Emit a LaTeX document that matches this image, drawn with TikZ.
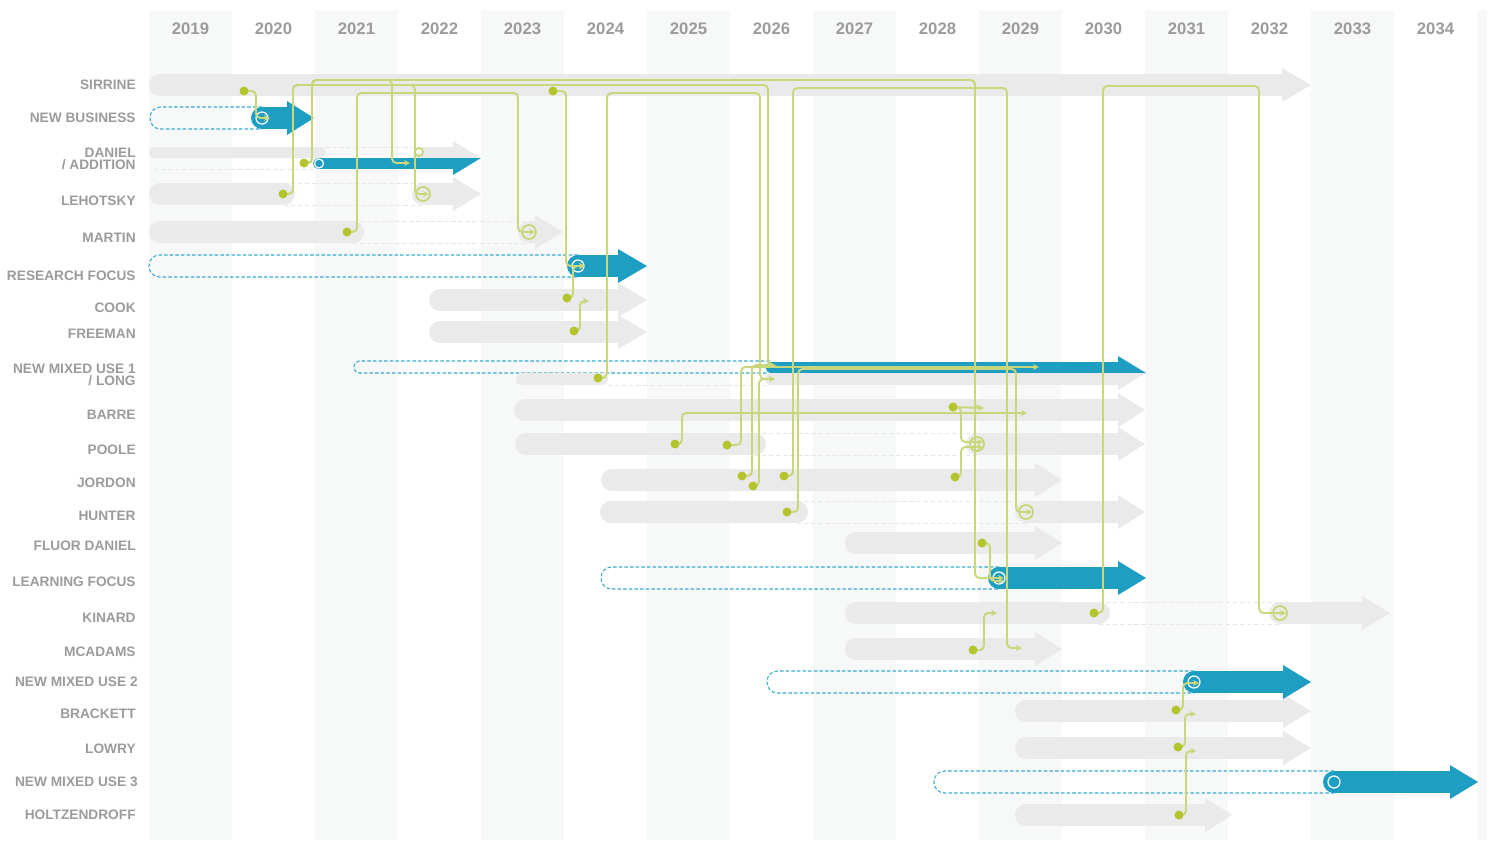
\documentclass[tikz,border=0pt]{standalone}
\usepackage{fontspec}
\setmainfont{Liberation Sans}
\usetikzlibrary{arrows.meta}
\definecolor{colbg}{RGB}{247,248,248}
\definecolor{lblgray}{RGB}{155,155,155}
\definecolor{bargray}{RGB}{234,234,234}
\definecolor{barblue}{RGB}{31,158,195}
\definecolor{dashblue}{RGB}{58,170,210}
\definecolor{dashgray}{RGB}{230,230,230}
\definecolor{linkgreen}{RGB}{201,215,122}
\definecolor{dotgreen}{RGB}{180,196,44}
\tikzset{
  yearlbl/.style={font=\fontsize{9.5}{11}\selectfont\bfseries, text=lblgray},
  rowlbl/.style={anchor=east, inner sep=0pt, align=right, font=\fontsize{7.8}{7.2}\selectfont\bfseries, text=lblgray},
  gbar/.style={fill=bargray},
  bbar/.style={fill=barblue},
  gdash/.style={draw=dashgray, line width=0.5pt, dash pattern=on 2.5pt off 1.5pt},
  bdash/.style={draw=dashblue, line width=0.6pt, dash pattern=on 2pt off 1.2pt},
  link/.style={draw=linkgreen, line width=1.1pt, rounded corners=2.5pt, -{Stealth[length=3.4pt,width=3.4pt]}},
  ring/.style={draw=white, line width=0.7pt},
  gring/.style={draw=linkgreen!80!dotgreen, line width=0.9pt},
}
\begin{document}
\begin{tikzpicture}[x=0.02cm,y=-0.02cm]
\useasboundingbox (0,0) rectangle (1491,840);
% year columns
\foreach \i in {0,2,...,14}
  \fill[colbg] (149+83*\i,10) rectangle (232+83*\i,840);
\fill[colbg] (1477,10) rectangle (1487,840);
\foreach \yr [count=\i from 0] in {2019,...,2034}
  \node[yearlbl] (y\yr) at (190.5+83*\i,29) {\yr};

% row labels
\foreach \nm/\y/\txt in {sirrine/85/SIRRINE, newbiz/118/NEW BUSINESS, lehotsky/201/LEHOTSKY,
    martin/238/MARTIN, research/276/RESEARCH FOCUS, cook/308/COOK, freeman/334/FREEMAN,
    barre/415/BARRE, poole/450/POOLE, jordon/483/JORDON, hunter/516/HUNTER,
    fluor/546/FLUOR DANIEL, learning/582/LEARNING FOCUS, kinard/618/KINARD,
    mcadams/652/MCADAMS, brackett/714/BRACKETT, lowry/749/LOWRY, holtz/815/HOLTZENDROFF}
  \node[rowlbl] (\nm) at (136,\y) {\txt};
\node[rowlbl] (daniel) at (136,159) {DANIEL\\/ ADDITION};
\node[rowlbl] (mixedA) at (136,375) {NEW MIXED USE 1\\/ LONG};
\node[rowlbl] (mixedB) at (138,682) {NEW MIXED USE 2};
\node[rowlbl] (mixedC) at (138,782) {NEW MIXED USE 3};

% plain grey bars: y / start / head / tip
\foreach \y/\a/\b/\t in {85/149/1282/1311, 300/429/618/647, 332/429/618/647,
    410/514/1118/1145, 480/601/1035/1062, 543/845/1035/1062, 649/845/1035/1062,
    711/1015/1283/1311, 748/1015/1283/1311, 815/1015/1205/1232}
{
  \fill[gbar] (\a+11,\y) circle (11);
  \fill[gbar] (\a+11,\y-11) rectangle (\b,\y+11);
  \fill[gbar] (\b,\y-17) -- (\t,\y) -- (\b,\y+17) -- cycle;
}

% grey bars with a gap: y / start / done / restart / head / tip
\foreach \y/\a/\c/\d/\b/\t in {194/149/295/412/453/481, 232/149/364/518/535/563,
    444/515/766/966/1118/1145, 512/600/808/1015/1118/1145, 613/845/1110/1269/1362/1390}
{
  \fill[gbar] (\a+11,\y) circle (11);
  \fill[gbar] (\c-11,\y) circle (11);
  \fill[gbar] (\a+11,\y-11) rectangle (\c-11,\y+11);
  \draw[gdash] (\c-11,\y-11) -- (\d+11,\y-11) (\c-11,\y+11) -- (\d+11,\y+11);
  \fill[gbar] (\d+11,\y) circle (11);
  \fill[gbar] (\d+11,\y-11) rectangle (\b,\y+11);
  \fill[gbar] (\b,\y-17) -- (\t,\y) -- (\b,\y+17) -- cycle;
  \draw[gring] (\d+11,\y) circle (7);
}

% blue bars: y / plan start / start / head / tip
\foreach \y/\a/\e/\b/\t in {118/150/262/287/314, 266/149/578/618/647,
    578/601/999/1118/1146, 682/767/1194/1283/1311, 782/934/1334/1450/1478}
{
  \draw[bdash, rounded corners=6pt] (\e,\y-11) -- (\a,\y-11) -- (\a,\y+11) -- (\e,\y+11);
  \fill[bbar] (\e,\y) circle (11);
  \fill[bbar] (\e,\y-11) rectangle (\b,\y+11);
  \fill[bbar] (\b,\y-17) -- (\t,\y) -- (\b,\y+17) -- cycle;
  \draw[ring] (\e,\y) circle (6);
}

% daniel / addition
\fill[gbar, rounded corners=3pt] (149,147) rectangle (326,158);
\draw[gdash] (326,147) -- (413,147);
\draw[gdash] (313,169) -- (155,169);
\fill[gbar] (418.5,152.5) circle (5.5);
\fill[gbar] (418.5,147) rectangle (453,158);
\fill[bbar] (318.5,163.5) circle (5.5);
\fill[bbar] (318.5,158) rectangle (453,169);
\fill[gbar] (453,141) -- (481,158) -- (453,158) -- cycle;
\fill[bbar] (453,158) -- (481,158) -- (453,175) -- cycle;
\draw[ring] (319,163.5) circle (4.5);
\draw[gring, fill=white] (419,152) circle (4);

% new mixed use 1 / long
\draw[bdash, rounded corners=3pt] (770,361) -- (354,361) -- (354,373) -- (770,373);
\fill[gbar, rounded corners=3pt] (516,373) rectangle (608,385);
\draw[gdash] (608,385) -- (770,385);
\fill[gbar] (771,379) circle (6);
\fill[gbar] (771,373) rectangle (1118,385);
\fill[bbar] (771,367.5) circle (5.5);
\fill[bbar] (771,362) rectangle (1118,373);
\fill[bbar] (1118,356) -- (1146,373) -- (1118,373) -- cycle;
\fill[gbar] (1118,373) -- (1146,373) -- (1118,390) -- cycle;

% link ends
\coordinate (dSirrA) at (244,91);
\coordinate (dSirrB) at (553,91);
\coordinate (dDan) at (304,163);
\coordinate (dLeh) at (283,194);
\coordinate (dMar) at (347,232);
\coordinate (dCook) at (567,298);
\coordinate (dFree) at (574,331);
\coordinate (dNmu) at (598,378);
\coordinate (dBar) at (953,407);
\coordinate (dPooA) at (727,445);
\coordinate (dPooB) at (675,444);
\coordinate (dJorA) at (742,476);
\coordinate (dJorB) at (753,486);
\coordinate (dJorC) at (784,476);
\coordinate (dJorD) at (955,477);
\coordinate (dHun) at (787,512);
\coordinate (dFlu) at (982,543);
\coordinate (dKin) at (1094,613);
\coordinate (dMca) at (973,650);
\coordinate (dBra) at (1176,710);
\coordinate (dLow) at (1178,747);
\coordinate (dHol) at (1179,815);
\coordinate (tNewBiz) at (270,118);
\coordinate (tDan) at (410,163);
\coordinate (tLeh) at (429,194);
\coordinate (tMar) at (535,232);
\coordinate (tRes) at (585,266);
\coordinate (tCook) at (589,301);
\coordinate (tNmuA) at (775,365);
\coordinate (tNmuB) at (775,379);
\coordinate (tNmuC) at (1039,367);
\coordinate (tBarA) at (984,408);
\coordinate (tBarB) at (1027,413);
\coordinate (tPooA) at (983,442);
\coordinate (tPooB) at (983,447);
\coordinate (tHun) at (1032,512);
\coordinate (tLearnA) at (1004,578);
\coordinate (tLearnB) at (1004,581);
\coordinate (tKinA) at (997,613);
\coordinate (tKinB) at (1286,613);
\coordinate (tMca) at (1022,648);
\coordinate (tNmuD) at (1199,683);
\coordinate (tBra) at (1196,714);
\coordinate (tLow) at (1196,751);

% links
\draw[link] (dSirrA) -| (256,118) -- (tNewBiz);
\draw[link] (dLeh) -| (293,85) -| (768,365) -- (tNmuA);
\draw[link] (dLeh) -| (293,85) -| (415,194) -- (tLeh);
\draw[link] (dDan) -| (312,80) -| (975,578) -- (tLearnA);
\draw[link] (dDan) -| (312,80) -| (392,163) -- (tDan);
\draw[link] (dDan) -| (312,80) -| (975,408) -- (tBarA);
\draw[link] (dMar) -| (357,93) -| (518,232) -- (tMar);
\draw[link] (dSirrB) -| (566,266) -- (tRes);
\draw[link] (dCook) -| (573,266) -- (tRes);
\draw[link] (dFree) -| (580,301) -- (tCook);
\draw[link] (dNmu) -| (607,93) -| (760,379) -- (tNmuB);
\draw[link] (dJorA) -| (752,365) -- (tNmuA);
\draw[link] (dJorB) -| (759,379) -- (tNmuB);
\draw[link] (dPooA) -| (741,367) -- (tNmuC);
\draw[link] (dHun) -| (798,369) -| (1016,512) -- (tHun);
\draw[link] (dJorC) -| (793,88) -| (1007,648) -- (tMca);
\draw[link] (dMca) -| (984,613) -- (tKinA);
\draw[link] (dKin) -| (1103,86) -| (1259,613) -- (tKinB);
\draw[link] (dPooB) -| (682,413) -- (tBarB);
\draw[link] (dBar) -| (961,442) -- (tPooA);
\draw[link] (dBar) -- (tBarA);
\draw[link] (dJorD) -| (961,447) -- (tPooB);
\draw[link] (dFlu) -| (990,581) -- (tLearnB);
\draw[link] (dBra) -| (1183,683) -- (tNmuD);
\draw[link] (dLow) -| (1185,714) -- (tBra);
\draw[link] (dHol) -| (1186,751) -- (tLow);

\foreach \p in {dSirrA,dSirrB,dDan,dLeh,dMar,dCook,dFree,dNmu,dBar,dPooA,dPooB,
    dJorA,dJorB,dJorC,dJorD,dHun,dFlu,dKin,dMca,dBra,dLow,dHol}
  \fill[dotgreen] (\p) circle (4.5);
\end{tikzpicture}
\end{document}
